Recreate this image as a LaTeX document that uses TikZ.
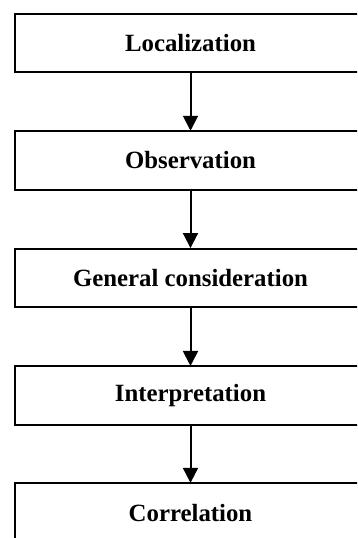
\documentclass[tikz,border=0pt]{standalone}
\usepackage{fontspec}
\setmainfont{Liberation Serif}
\usetikzlibrary{arrows.meta}
\begin{document}
\begin{tikzpicture}[x=1pt,y=1pt,
  stepbox/.style={draw=black, line width=2pt, minimum width=351pt, minimum height=58.5pt,
    inner sep=0pt, font=\fontsize{24.8}{28}\selectfont\bfseries},
  flow/.style={line width=2pt, -{Triangle[width=15pt,length=15pt]}, shorten >=-0.5pt}]
\useasboundingbox (0,0) rectangle (357,-538);
\clip (0,0) rectangle (357,-538);
\node[stepbox] (a) at (190.5,-43.2) {Localization};
\node[stepbox] (b) at (190.5,-160.5) {Observation};
\node[stepbox] (c) at (190.5,-277.8) {General consideration};
\node[stepbox] (d) at (190.5,-395.7) {Interpretation};
\node[stepbox] (e) at (190.5,-512.6) {Correlation};
\draw[flow] (a) -- (b);
\draw[flow] (b) -- (c);
\draw[flow] (c) -- (d);
\draw[flow] (d) -- (e);
\end{tikzpicture}
\end{document}
